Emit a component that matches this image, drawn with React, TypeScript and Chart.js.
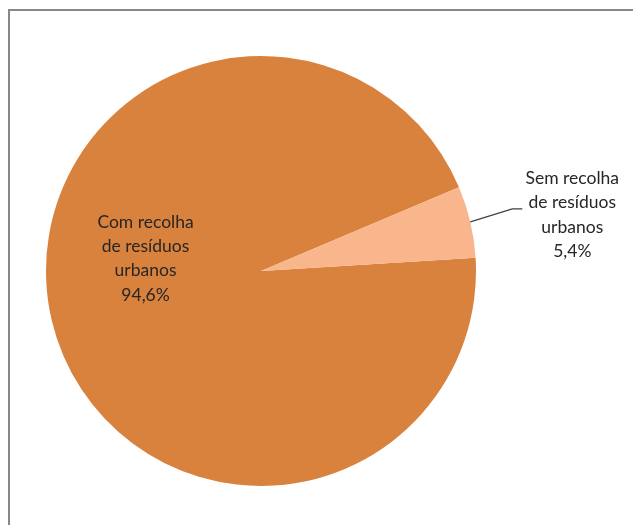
import React, { useEffect, useRef } from "react";
import { Chart, registerables } from "chart.js";

Chart.register(...registerables);

const categories = ["Com recolha de resíduos urbanos", "Sem recolha de resíduos urbanos"];
const labelLines = [
  ["Com recolha", "de resíduos", "urbanos"],
  ["Sem recolha", "de resíduos", "urbanos"],
];
const values = [94.6, 5.4];
const valueLabels = ["94,6%", "5,4%"];
const colors = ["#D9823D", "#F9B68C"];

const labelPlugin = {
  id: "pieLabels",
  afterDraw(chart: any) {
    const ctx = chart.ctx;
    const meta = chart.getDatasetMeta(0);
    ctx.save();
    ctx.font = "17.5px Lato, 'Open Sans', sans-serif";
    ctx.fillStyle = "#262626";
    ctx.textAlign = "center";
    ctx.textBaseline = "middle";
    const lh = 24.3;
    meta.data.forEach((arc: any, i: number) => {
      const { x, y, outerRadius, startAngle, endAngle } = arc.getProps(
        ["x", "y", "outerRadius", "startAngle", "endAngle"],
        true
      );
      const lines = [...labelLines[i], valueLabels[i]];
      let cx: number, cy: number;
      if (i === 0) {
        const a = Math.PI * 1.034;
        cx = x + Math.cos(a) * outerRadius * 0.54;
        cy = y + Math.sin(a) * outerRadius * 0.54;
      } else {
        const mid = (startAngle + endAngle) / 2;
        const px = x + Math.cos(mid) * outerRadius;
        const py = y + Math.sin(mid) * outerRadius;
        const kx = px + 42;
        const ky = py - 13;
        const ex = kx + 10;
        const ey = ky;
        ctx.strokeStyle = "#404040";
        ctx.lineWidth = 1.3;
        ctx.beginPath();
        ctx.moveTo(px, py);
        ctx.lineTo(kx, ky);
        ctx.lineTo(ex, ey);
        ctx.stroke();
        cx = ex + 50;
        cy = ey + 6;
      }
      const top = cy - ((lines.length - 1) * lh) / 2;
      lines.forEach((t, k) => ctx.fillText(t, cx, top + k * lh));
    });
    ctx.restore();
  },
};

export default function App() {
  const ref = useRef<HTMLCanvasElement>(null);
  useEffect(() => {
    if (!ref.current) return;
    const chart = new Chart(ref.current, {
      type: "pie",
      data: {
        labels: categories,
        datasets: [
          {
            data: values,
            backgroundColor: colors,
            borderColor: "#ffffff",
            borderWidth: 0,
          },
        ],
      },
      options: {
        animation: false,
        responsive: false,
        rotation: 86.5,
        layout: { padding: { left: 38, top: 48, right: 165, bottom: 39 } },
        plugins: {
          legend: { display: false },
          tooltip: { enabled: false },
        },
      },
      plugins: [labelPlugin],
    });
    return () => chart.destroy();
  }, []);
  return (
    <div style={{ position: "relative", width: 633, height: 517, overflow: "hidden" }}>
      <div
        style={{
          position: "absolute",
          left: 0,
          top: 1,
          width: 700,
          height: 600,
          borderTop: "2px solid #888888",
          borderLeft: "2px solid #888888",
          boxSizing: "border-box",
        }}
      />
      <canvas
        ref={ref}
        width={633}
        height={517}
        style={{ position: "absolute", left: 0, top: 0, width: 633, height: 517 }}
      />
    </div>
  );
}
